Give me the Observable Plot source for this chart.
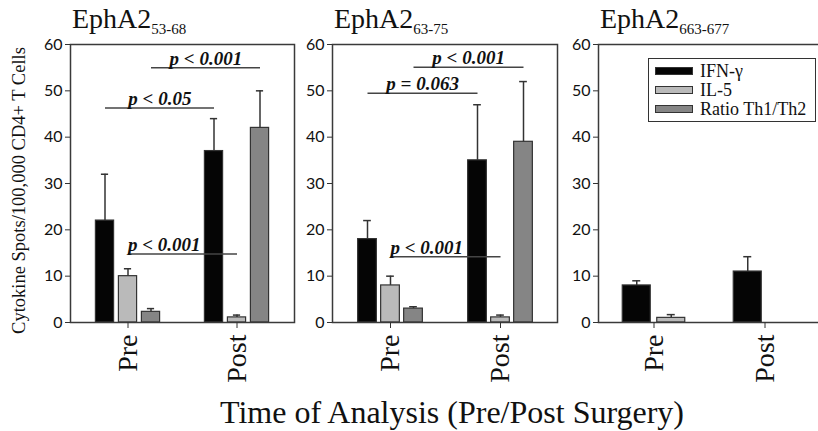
<!DOCTYPE html>
<html><head><meta charset="utf-8">
<script src="https://cdn.jsdelivr.net/npm/d3@7"></script>
<script src="https://cdn.jsdelivr.net/npm/@observablehq/plot@0.6"></script>
<style>
body{margin:0;background:#fff;overflow:hidden}
#chart{position:relative;width:818px;height:431px;overflow:hidden;font-family:"Liberation Serif",serif;color:#111}
.panel{position:absolute;top:0}
.panel svg{max-width:none !important}
.ptitle{position:absolute;top:5px;font-size:28px;line-height:28px;white-space:nowrap}
.ptitle span{font-size:15px;position:relative;top:6px}
#xtitle{position:absolute;left:0;width:904px;text-align:center;top:396px;font-size:32px;line-height:32px;white-space:nowrap}
#legend{position:absolute;left:648px;top:58px;width:166px;height:62px;border:1.5px solid #333;background:#fff}
#legend .row{position:absolute;left:6px;height:18px;font-size:18px;line-height:18px;white-space:nowrap}
#legend .sw{display:inline-block;width:36px;height:6px;border:1.2px solid #333;margin-right:7px;vertical-align:middle;position:relative;top:-2px}
</style></head><body><div id="chart"></div>
<script>
// ---- data ----
const times = ["Pre", "Post"];
const seriesNames = ["IFN-γ", "IL-5", "Ratio Th1/Th2"];
const seriesColors = ["#050505", "#bababa", "#858585"];
const yTicks = [0, 10, 20, 30, 40, 50, 60];

// EphA2 53-68 (mean, top of error bar) for [Pre, Post]
const a53IFN = [22, 37], a53IFNhi = [32, 44];
const a53IL5 = [10, 1.1], a53IL5hi = [11.6, 1.6];
const a53Ratio = [2.3, 42], a53Ratiohi = [3.0, 50];
const a53SigLabels = ["p < 0.001", "p < 0.05", "p < 0.001"];
const a53SigY = [55, 46.3, 14.8];
const a53SigSeries = ["Ratio Th1/Th2", "IFN-γ", "IL-5"];

// EphA2 63-75
const a63IFN = [18, 35], a63IFNhi = [22, 47];
const a63IL5 = [8, 1.1], a63IL5hi = [10, 1.6];
const a63Ratio = [3, 39], a63Ratiohi = [3.4, 52];
const a63SigLabels = ["p < 0.001", "p = 0.063", "p < 0.001"];
const a63SigY = [55.1, 49.5, 14.2];
const a63SigSeries = ["Ratio Th1/Th2", "IFN-γ", "IL-5"];

// EphA2 663-677
const a663IFN = [8, 11], a663IFNhi = [9, 14.2];
const a663IL5 = [1, 0], a663IL5hi = [1.7, null];

const yLabel = "Cytokine Spots/100,000 CD4+ T Cells";
const xTitle = "Time of Analysis (Pre/Post Surgery)";

// ---- helpers ----
function rowsOf(series, vals, his) {
  return times.map((t, i) => ({time: t, series, value: vals[i], hi: his[i]}));
}
function sigRows(labels, ys, ss) {
  return labels.map((label, j) => ({label, y: ys[j], series: ss[j], from: times[0], to: times[1]}));
}

const chart = document.getElementById("chart");

function makePanel({left, width, ml, mr, po, series, rows, sig, barW, step, showYLabel, sub}) {
  const height = 392, mt = 44, mb = 70;
  const n = series.length;
  const plotW = width - ml - mr;
  const bw = plotW / (times.length + 2 * po);
  const off = s => (series.indexOf(s) - (n - 1) / 2) * step;
  const inset = (bw - barW) / 2;
  const capInset = (bw - 8) / 2;
  const marks = [];
  series.forEach((s, i) => {
    const col = seriesColors[seriesNames.indexOf(s)];
    const d = rows.filter(r => r.series === s);
    marks.push(Plot.barY(d.filter(r => r.value > 0), {x: "time", y: "value", fill: col, stroke: "#333", strokeWidth: 1.2, insetLeft: inset, insetRight: inset, dx: off(s)}));
    const e = d.filter(r => r.hi != null);
    marks.push(Plot.ruleX(e, {x: "time", y1: "value", y2: "hi", dx: off(s), stroke: "#333", strokeWidth: 1.5}));
    marks.push(Plot.tickY(e, {x: "time", y: "hi", dx: off(s), insetLeft: capInset, insetRight: capInset, stroke: "#333", strokeWidth: 1.5}));
  });
  (sig || []).forEach(a => {
    const isLow = a.series === "IL-5";
    marks.push(Plot.link([a], {x1: "from", x2: "to", y1: "y", y2: "y", dx: off(a.series), stroke: "#444", strokeWidth: 1.5}));
    marks.push(Plot.text([a], {x: "from", y: "y", text: "label", dx: isLow ? off(a.series) : off(a.series) + bw / 2, dy: -3, lineAnchor: "bottom", textAnchor: isLow ? "start" : "middle", fontSize: 19, fontWeight: "bold", fontStyle: "italic", fill: "#111"}));
  });
  marks.push(Plot.frame({stroke: "#3a3a3a", strokeWidth: 1.5}));
  marks.push(Plot.axisY({ticks: yTicks, tickSize: 5, tickPadding: 3, fontSize: 16, fontFamily: "Lato", label: null, stroke: "#333", fill: "#111"}));
  marks.push(Plot.axisX({tickSize: 6, tickPadding: 6, tickRotate: -90, fontSize: 28, label: null, stroke: "#333", fill: "#111"}));
  if (showYLabel) {
    marks.push(Plot.text([yLabel], {frameAnchor: "left", text: d => d, rotate: -90, textAnchor: "middle", lineAnchor: "middle", dx: -51, dy: 7, fontSize: 18.5, fill: "#111"}));
  }
  const svg = Plot.plot({
    width, height, marginTop: mt, marginBottom: mb, marginLeft: ml, marginRight: mr,
    x: {domain: times, paddingInner: 0, paddingOuter: po, axis: null},
    y: {domain: [0, 60], axis: null},
    style: {fontFamily: "Liberation Serif", fontSize: "16px", background: "transparent", overflow: "visible", maxWidth: "none"},
    marks
  });
  const wrap = document.createElement("div");
  wrap.className = "panel";
  wrap.style.left = left + "px";
  wrap.style.width = width + "px";
  wrap.appendChild(svg);
  chart.appendChild(wrap);
  const t = document.createElement("div");
  t.className = "ptitle";
  t.style.left = (left + ml + 2) + "px";
  t.innerHTML = "EphA2<span>" + sub + "</span>";
  chart.appendChild(t);
}

makePanel({left: 0, width: 295, ml: 70, mr: 1, po: 0.02, series: seriesNames,
  rows: [...rowsOf("IFN-γ", a53IFN, a53IFNhi), ...rowsOf("IL-5", a53IL5, a53IL5hi), ...rowsOf("Ratio Th1/Th2", a53Ratio, a53Ratiohi)],
  sig: sigRows(a53SigLabels, a53SigY, a53SigSeries), barW: 19, step: 23, showYLabel: true, sub: "53-68"});
makePanel({left: 295, width: 263, ml: 37, mr: 1, po: 0.02, series: seriesNames,
  rows: [...rowsOf("IFN-γ", a63IFN, a63IFNhi), ...rowsOf("IL-5", a63IL5, a63IL5hi), ...rowsOf("Ratio Th1/Th2", a63Ratio, a63Ratiohi)],
  sig: sigRows(a63SigLabels, a63SigY, a63SigSeries), barW: 19, step: 23, showYLabel: false, sub: "63-75"});
makePanel({left: 558, width: 262, ml: 40, mr: 0, po: 0, series: ["IFN-γ", "IL-5"],
  rows: [...rowsOf("IFN-γ", a663IFN, a663IFNhi), ...rowsOf("IL-5", a663IL5, a663IL5hi)],
  sig: [], barW: 28, step: 34.5, showYLabel: false, sub: "663-677"});

// legend
const legend = document.createElement("div");
legend.id = "legend";
seriesNames.forEach((s, i) => {
  const r = document.createElement("div");
  r.className = "row";
  r.style.top = (3 + i * 19) + "px";
  r.innerHTML = `<span class="sw" style="background:${seriesColors[i]}"></span>${s}`;
  legend.appendChild(r);
});
chart.appendChild(legend);

const xt = document.createElement("div");
xt.id = "xtitle";
xt.textContent = xTitle;
chart.appendChild(xt);
</script></body></html>
